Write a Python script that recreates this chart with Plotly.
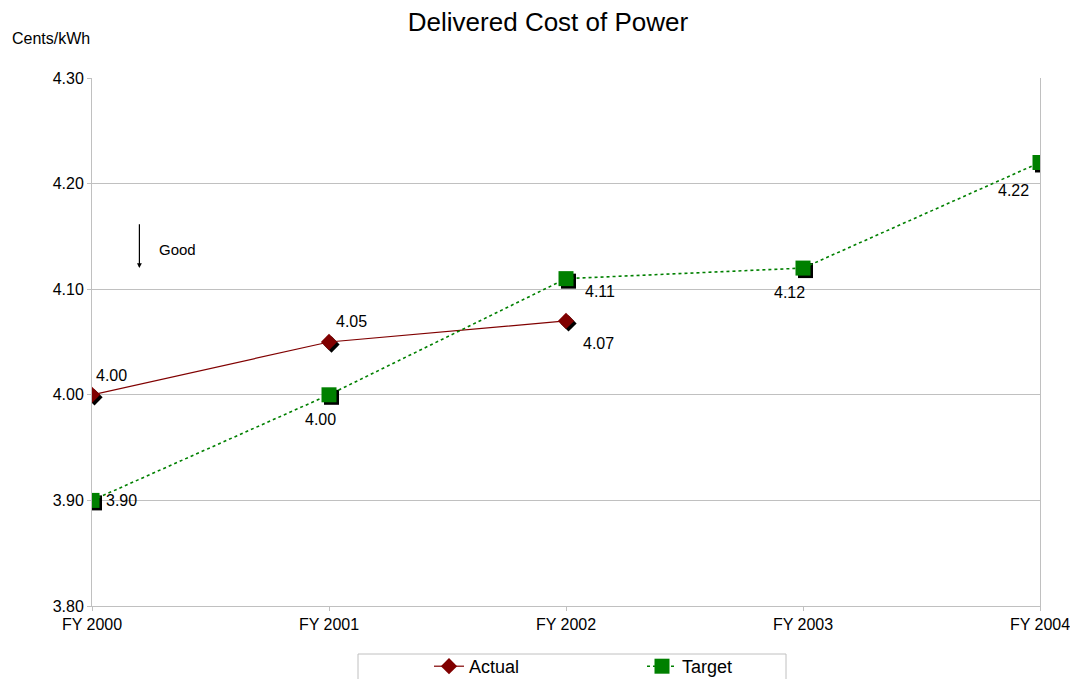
import plotly.graph_objects as go

categories = ["FY 2000", "FY 2001", "FY 2002", "FY 2003", "FY 2004"]
actual = [4.00, 4.05, 4.07]
target = [3.90, 4.00, 4.11, 4.12, 4.22]
actual_labels = ["4.00", "4.05", "4.07"]
target_labels = ["3.90", "4.00", "4.11", "4.12", "4.22"]
y_ticks = [3.80, 3.90, 4.00, 4.10, 4.20, 4.30]

# label offsets in pixels (x, y-up)
actual_shift = [(19, 19), (22, 21), (32, -23)]
target_shift = [(29, 0), (-9, -25), (34, -13), (-14, -24), (-27, -28)]

W, H = 1078, 679
PAD = 8  # page body margin
ML, MT = 92 - PAD, 78 - PAD
PW, PH = 948, 528
MR = W - ML - PW
MB = H - MT - PH
x_range = [0, len(categories) - 1]
y_range = [3.80, 4.30]
px_x = PW / (x_range[1] - x_range[0])
px_y = PH / (y_range[1] - y_range[0])
sx, sy = 2.5 / px_x, -2.5 / px_y  # shadow offsets in data units

xa = list(range(len(actual)))
xt = list(range(len(target)))
FONT = "Liberation Sans, Arial, sans-serif"

fig = go.Figure()
fig.add_trace(go.Scatter(x=[v + sx for v in xa], y=[v + sy for v in actual], mode="markers",
                         marker=dict(symbol="diamond", size=12.5, color="black"),
                         showlegend=False, hoverinfo="skip"))
fig.add_trace(go.Scatter(x=[v + sx for v in xt], y=[v + sy for v in target], mode="markers",
                         marker=dict(symbol="square", size=15, color="black"),
                         showlegend=False, hoverinfo="skip"))
fig.add_trace(go.Scatter(x=xa, y=actual, name="Actual", mode="lines+markers",
                         line=dict(color="#800000", width=1.2),
                         marker=dict(symbol="diamond", size=12.5, color="#800000")))
fig.add_trace(go.Scatter(x=xt, y=target, name="Target", mode="lines+markers",
                         line=dict(color="#008000", width=1.6, dash="dot"),
                         marker=dict(symbol="square", size=15, color="#008000")))

for xs, ys, labs, shifts in [(xa, actual, actual_labels, actual_shift),
                             (xt, target, target_labels, target_shift)]:
    for xv, yv, lab, (dx, dy) in zip(xs, ys, labs, shifts):
        fig.add_annotation(x=xv, y=yv, xref="x", yref="y", text=lab, showarrow=False,
                           xshift=dx, yshift=dy, font=dict(size=16, color="black", family=FONT))

fig.add_annotation(x=0.2, y=4.12, ax=0.2, ay=4.163, xref="x", yref="y", axref="x", ayref="y",
                   text="", showarrow=True, arrowhead=2, arrowsize=0.8, arrowwidth=1.2, arrowcolor="black")
fig.add_annotation(x=0.274, y=4.138, xref="x", yref="y", text="Good", showarrow=False,
                   xanchor="left", font=dict(size=15, color="black", family=FONT))
fig.add_annotation(x=(10 - 92) / PW, y=1 - (38 - 78) / PH, xref="paper", yref="paper",
                   text="Cents/kWh", showarrow=False, xanchor="left", yanchor="middle",
                   font=dict(size=16, color="black", family=FONT))

# legend frame
fig.add_shape(type="rect", xref="paper", yref="paper",
              x0=(358 - 92) / PW, x1=(786 - 92) / PW,
              y0=1 - (654 - 78) / PH, y1=1 - (700 - 78) / PH,
              line=dict(color="#c0c0c0", width=1), fillcolor="rgba(0,0,0,0)", layer="above")

fig.update_layout(
    width=W, height=H,
    margin=dict(l=ML, r=MR, t=MT, b=MB),
    paper_bgcolor="white", plot_bgcolor="white",
    title=dict(text="Delivered Cost of Power", x=(548 - PAD) / W, xanchor="center",
               y=1 - (22 - PAD) / H, yanchor="middle",
               font=dict(size=26, color="black", family=FONT)),
    font=dict(family=FONT, color="black", size=16),
    xaxis=dict(range=x_range, tickvals=list(range(len(categories))), ticktext=categories,
               showgrid=False, zeroline=False, showline=True, linecolor="#c0c0c0", linewidth=1,
               ticks="outside", ticklen=4, tickcolor="#c0c0c0", tickfont=dict(size=16)),
    yaxis=dict(range=y_range, tickvals=y_ticks, tickformat=".2f", showgrid=True, gridcolor="#c0c0c0",
               zeroline=False, showline=True, mirror=True, linecolor="#c0c0c0", linewidth=1,
               ticks="outside", ticklen=4, tickcolor="#c0c0c0", tickfont=dict(size=16)),
    legend=dict(orientation="h", x=(429 - 92) / PW, xanchor="left",
                yref="container", y=1 - (648 - PAD) / H, yanchor="top",
                bgcolor="rgba(0,0,0,0)", borderwidth=0, font=dict(size=18),
                entrywidth=168, entrywidthmode="pixels"),
    showlegend=True,
)
fig.write_html("out.html")
